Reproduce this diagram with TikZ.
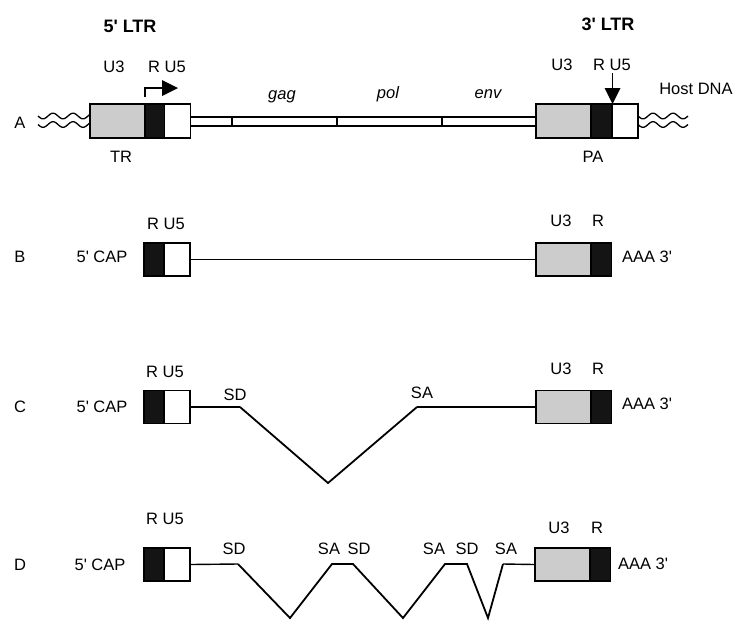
\documentclass[tikz,border=0pt]{standalone}
\usepackage{fontspec}
\setmainfont{Liberation Sans}
\newcommand{\apos}{\textquotesingle}
\begin{document}
\begin{tikzpicture}[x=1pt,y=-1pt,
  lab/.style={font=\fontsize{16.5}{18}\selectfont, inner sep=0pt, text height=11.8pt, text depth=0pt},
  ttl/.style={font=\fontsize{18}{20}\selectfont\bfseries, inner sep=0pt, text height=13pt, text depth=0pt},
  gene/.style={font=\fontsize{16.5}{18}\selectfont\itshape, inner sep=0pt, text height=11.8pt, text depth=0pt},
  seg/.style={draw=black, line width=1.7pt, inner sep=0pt, minimum height=33pt},
  u3seg/.style={seg, fill=black!20, minimum width=55pt},
  rseg/.style={seg, fill=black!92, minimum width=20pt},
  u5seg/.style={seg, fill=white, minimum width=26pt},
  wire/.style={line width=1.4pt},
  splice/.style={line width=1.8pt, line join=miter},
  wave/.style={line width=1.3pt}
]
\useasboundingbox (0,0) rectangle (737,622);

% ---------------- Row A ----------------
\node[ttl] (t5) at (130,26) {5\apos{} LTR};
\node[ttl] (t3) at (608,24) {3\apos{} LTR};
\node[lab] (lA) at (20,123) {A};

% waves
\draw[wave] plot[domain=38:90, samples=80, smooth] (\x, {116+2.8*sin(18*(\x-38))});
\draw[wave] plot[domain=38:90, samples=80, smooth] (\x, {124.5+2.8*sin(18*(\x-38))});
\draw[wave] plot[domain=638:688, samples=80, smooth] (\x, {116+2.8*sin(18*(\x-638))});
\draw[wave] plot[domain=638:688, samples=80, smooth] (\x, {124.5+2.8*sin(18*(\x-638))});

\node[u3seg, minimum height=34pt] (Au3l) at (117.5,121) {};
\node[rseg, minimum height=34pt]  (Arl)  at (155,121) {};
\node[u5seg, minimum height=34pt] (Au5l) at (177.5,121) {};
\node[u3seg, minimum height=34pt] (Au3r) at (563.5,121) {};
\node[rseg, minimum height=34pt]  (Arr)  at (601.5,121) {};
\node[u5seg, minimum height=34pt] (Au5r) at (624.75,121) {};

% double line (proviral body)
\draw[wire] ([yshift=4pt]Au5l.east) -- ([yshift=4pt]Au3r.west);
\draw[wire] ([yshift=-5pt]Au5l.east) -- ([yshift=-5pt]Au3r.west);
\draw[wire] (232,117) -- (232,126);
\draw[wire] (337,117) -- (337,126);
\draw[wire] (442,117) -- (442,126);

% promoter arrow
\coordinate (pr0) at (145,97);
\coordinate (pr1) at (145,88);
\coordinate (pr2) at (163,88);
\draw[line width=1.4pt] (pr0) -- (pr1) -- (pr2);
\fill (162,80) -- (178,88) -- (162,96) -- cycle;

% polyadenylation arrow
\coordinate (pa0) at (612.5,73);
\coordinate (pa1) at (612.5,92);
\draw[line width=1.4pt] (pa0) -- (pa1);
\fill (604.5,88) -- (620.5,88) -- (612.5,104) -- cycle;

\node[lab] (aU3l) at (114,67) {U3};
\node[lab] (aRU5l) at (167,67) {R U5};
\node[lab] (aTR) at (121,157) {TR};
\node[gene] (gag) at (282,94) {gag};
\node[gene] (pol) at (388,93) {pol};
\node[gene] (env) at (488,93) {env};
\node[lab] (aU3r) at (562,65) {U3};
\node[lab] (aRU5r) at (612,65) {R U5};
\node[lab] (host) at (696,89) {Host DNA};
\node[lab] (aPA) at (593,157) {PA};

% ---------------- Row B ----------------
\node[lab] (lB) at (20,257) {B};
\node[lab] (capB) at (102,257) {5\apos{} CAP};
\node[rseg]  (Brl)  at (154,259.5) {};
\node[u5seg] (Bu5l) at (177,259.5) {};
\node[u3seg] (Bu3r) at (563.5,259.5) {};
\node[rseg]  (Brr)  at (601.5,259.5) {};
\draw[wire] (Bu5l.east) -- (Bu3r.west);
\node[lab] (bRU5) at (166,224) {R U5};
\node[lab] (bU3) at (561,221) {U3};
\node[lab] (bR) at (598,221) {R};
\node[lab] (bAAA) at (647,257) {AAA 3\apos};

% ---------------- Row C ----------------
\node[lab] (lC) at (20,407) {C};
\node[lab] (capC) at (102,407) {5\apos{} CAP};
\node[rseg]  (Crl)  at (154,407) {};
\node[u5seg] (Cu5l) at (177,407) {};
\node[u3seg] (Cu3r) at (563.5,407) {};
\node[rseg]  (Crr)  at (601.5,407) {};
\coordinate (Csd) at (240,407);
\coordinate (Cv) at (328,483);
\coordinate (Csa) at (417,407);
\draw[wire] (Cu5l.east) -- (Csd);
\draw[splice] (Csd) -- (Cv) -- (Csa);
\draw[wire] (Csa) -- (Cu3r.west);
\node[lab] (cRU5) at (165,372) {R U5};
\node[lab] (cSD) at (235,395) {SD};
\node[lab] (cSA) at (422,393) {SA};
\node[lab] (cU3) at (561,369) {U3};
\node[lab] (cR) at (598,369) {R};
\node[lab] (cAAA) at (647,404) {AAA 3\apos};

% ---------------- Row D ----------------
\node[lab] (lD) at (20,565) {D};
\node[lab] (capD) at (100,565) {5\apos{} CAP};
\node[rseg]  (Drl)  at (154,564.5) {};
\node[u5seg] (Du5l) at (177,564.5) {};
\node[u3seg] (Du3r) at (562.5,564.5) {};
\node[rseg]  (Drr)  at (600.5,564.5) {};
\coordinate (Dsd1) at (238,564);
\coordinate (Dv1) at (290,618);
\coordinate (Dsa1) at (332,564);
\coordinate (Dsd2) at (353,564);
\coordinate (Dv2) at (403,618);
\coordinate (Dsa2) at (445,564);
\coordinate (Dsd3) at (467,564);
\coordinate (Dv3) at (488,618);
\coordinate (Dsa3) at (503,564);
\draw[wire] (Du5l.east) -- (Dsd1);
\draw[splice] (Dsd1) -- (Dv1) -- (Dsa1) -- (Dsd2) -- (Dv2) -- (Dsa2) -- (Dsd3) -- (Dv3) -- (Dsa3);
\draw[wire] (Dsa3) -- (Du3r.west);
\node[lab] (dRU5) at (165,519) {R U5};
\node[lab] (dSD1) at (234,549) {SD};
\node[lab] (dSA1) at (329,549) {SA};
\node[lab] (dSD2) at (359,549) {SD};
\node[lab] (dSA2) at (434,549) {SA};
\node[lab] (dSD3) at (467,549) {SD};
\node[lab] (dSA3) at (506,549) {SA};
\node[lab] (dU3) at (559,528) {U3};
\node[lab] (dR) at (597,528) {R};
\node[lab] (dAAA) at (643,564) {AAA 3\apos};
\end{tikzpicture}
\end{document}
